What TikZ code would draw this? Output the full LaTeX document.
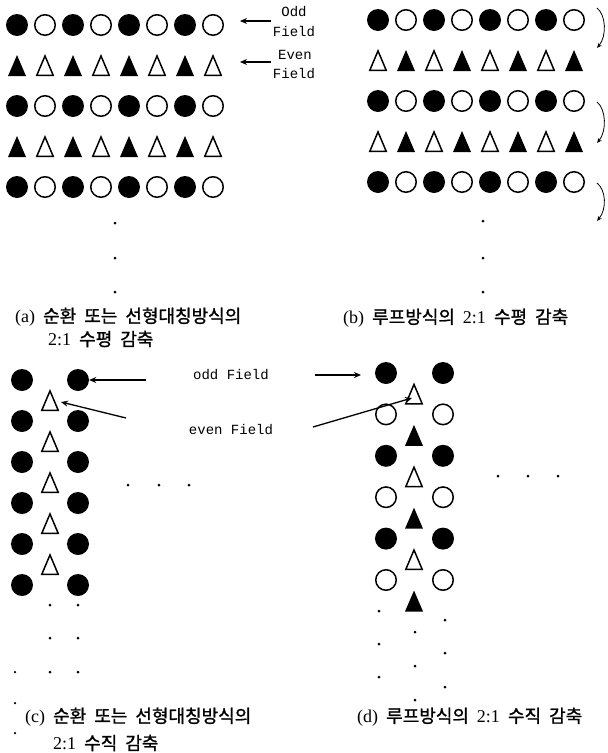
\documentclass[tikz,border=0pt]{standalone}
\usepackage{fontspec}
\usetikzlibrary{arrows.meta}
\newfontfamily\krfont{Noto Sans CJK KR}[FakeBold=1.2]
\newfontfamily\latfont{Liberation Serif}
\newfontfamily\monofont{Liberation Mono}
\newcommand\capfontsetup{\fontsize{18}{21}\selectfont\spaceskip 8pt\relax}
\begin{document}
\begin{tikzpicture}[x=1pt,y=-1pt,
 fc/.style={circle,fill=black,inner sep=0pt,minimum size=22pt},
 oc/.style={circle,draw=black,line width=1.5pt,inner sep=0pt,minimum size=20.5pt},
 dotm/.style={circle,fill=black,inner sep=0pt,minimum size=3pt},
 lbl/.style={font=\monofont\fontsize{14}{16}\selectfont,inner sep=0pt},
 captxt/.style={font=\capfontsetup,inner sep=0pt,anchor=west},
 arr/.style={line width=1.3pt,-{Stealth[length=7pt,width=6pt]}},
 curv/.style={line width=0.8pt,-{Stealth[length=5pt,width=4pt]}},
 ftri/.pic={\fill (-9,10.5) -- (9,10.5) -- (0,-10.5) -- cycle; \coordinate (-c) at (0,0);},
 otri/.pic={\draw[line width=1.5pt,line join=miter] (-8.2,9.8) -- (8.2,9.8) -- (0,-9.6) -- cycle; \coordinate (-c) at (0,0);}
]
\fill[white] (0,0) rectangle (608,753);
\useasboundingbox (0,0) rectangle (608,753);

% ---------- (a) ----------
\foreach \r/\y in {1/25,3/106,5/187}{
  \foreach \i in {0,...,7}{
    \ifodd\i \node[oc] (a-\r-\i) at ({17+28*\i},\y) {};
    \else \node[fc] (a-\r-\i) at ({17+28*\i},\y) {}; \fi
  }
}
\foreach \r/\y in {2/65.5,4/146.5}{
  \foreach \i in {0,...,7}{
    \ifodd\i \pic (a-\r-\i) at ({17+28*\i},\y) {otri};
    \else \pic (a-\r-\i) at ({17+28*\i},\y) {ftri}; \fi
  }
}
\foreach \k/\y in {1/223,2/258,3/292}{\node[dotm] (a-d-\k) at (115,\y) {};}
\coordinate (oddAs) at (271,21); \coordinate (oddAe) at (240,21);
\coordinate (evenAs) at (271,62); \coordinate (evenAe) at (240,62);
\draw[arr,line width=1.1pt] (oddAs) -- (oddAe);
\draw[arr,line width=1.1pt] (evenAs) -- (evenAe);
\node[lbl] (oddA1) at (294,12) {Odd};
\node[lbl] (oddA2) at (294,32) {Field};
\node[lbl] (evenA1) at (295,55) {Even};
\node[lbl] (evenA2) at (294,74) {Field};

% ---------- (b) ----------
\foreach \r/\y in {1/20,3/101,5/182}{
  \foreach \i in {0,...,7}{
    \ifodd\i \node[oc] (b-\r-\i) at ({378+28*\i},\y) {};
    \else \node[fc] (b-\r-\i) at ({378+28*\i},\y) {}; \fi
  }
}
\foreach \r/\y in {2/60.5,4/141.5}{
  \foreach \i in {0,...,7}{
    \ifodd\i \pic (b-\r-\i) at ({378+28*\i},\y) {ftri};
    \else \pic (b-\r-\i) at ({378+28*\i},\y) {otri}; \fi
  }
}
\foreach \k/\y in {1/221,2/258,3/292}{\node[dotm] (b-d-\k) at (483,\y) {};}
\foreach \k/\ys/\ye in {1/8/48,2/102/143,3/183/221}{
  \coordinate (bc\k s) at (597,\ys);
  \coordinate (bc\k e) at (597,\ye);
  \draw[curv] (bc\k s) .. controls (606,{\ys+7}) and (607,{\ye-12}) .. (bc\k e);
}

% ---------- captions (a),(b) ----------
\node[captxt] (capA1) at (15,317) {\latfont (a) \krfont 순환 또는 선형대칭방식의};
\node[captxt] (capA2) at (48,339) {\latfont 2:1 \krfont 수평 감축};
\node[captxt] (capB) at (343,318) {\latfont (b) \krfont 루프방식의 \latfont 2:1 \krfont 수평 감축};

% ---------- (c) ----------
\foreach \k in {0,...,5}{
  \node[fc] (c-l-\k) at (22,{380+41*\k}) {};
  \node[fc] (c-r-\k) at (78,{380+41*\k}) {};
}
\foreach \k in {0,...,4}{\pic (c-t-\k) at (50,{400.5+41*\k}) {otri};}
\foreach \k/\y in {1/605,2/638,3/672}{
  \node[dotm] (c-dm-\k) at (50,\y) {};
  \node[dotm] (c-dr-\k) at (78,\y) {};
}
\foreach \k/\y in {1/672,2/703,3/733}{\node[dotm,minimum size=2.5pt] (c-dl-\k) at (15,\y) {};}
\foreach \k/\x in {1/128,2/159,3/189}{\node[dotm] (c-h-\k) at (\x,485) {};}

% ---------- (d) ----------
\foreach \k in {0,...,5}{
  \ifodd\k
    \node[oc] (d-l-\k) at (386,{373+41.4*\k}) {};
    \node[oc] (d-r-\k) at (443,{373+41.4*\k}) {};
    \pic (d-t-\k) at (414,{394+41.4*\k}) {ftri};
  \else
    \node[fc] (d-l-\k) at (386,{373+41.4*\k}) {};
    \node[fc] (d-r-\k) at (443,{373+41.4*\k}) {};
    \pic (d-t-\k) at (414,{394+41.4*\k}) {otri};
  \fi
}
\foreach \k/\y in {1/611,2/644,3/677}{\node[dotm] (d-dl-\k) at (379,\y) {};}
\foreach \k/\y in {1/632,2/666,3/700}{\node[dotm] (d-dm-\k) at (415,\y) {};}
\foreach \k/\y in {1/620,2/653,3/687}{\node[dotm] (d-dr-\k) at (445,\y) {};}
\foreach \k/\x in {1/498,2/528,3/558}{\node[dotm] (d-h-\k) at (\x,476) {};}

% ---------- labels and arrows (c),(d) ----------
\node[lbl] (oddC) at (231,375) {odd Field};
\node[lbl] (evenC) at (231,430) {even Field};
\coordinate (oddLs) at (146,380);
\coordinate (evenLs) at (126,418);
\coordinate (evenLe) at (61,402);
\coordinate (oddRs) at (315,375);
\coordinate (oddRe) at (361,375);
\coordinate (evenRs) at (313,427);
\coordinate (evenRe) at (412,398);
\draw[arr] (oddLs) -- (c-r-0.east);
\draw[arr] (evenLs) -- (evenLe);
\draw[arr] (oddRs) -- (oddRe);
\draw[arr] (evenRs) -- (evenRe);

% ---------- captions (c),(d) ----------
\node[captxt] (capC1) at (25,717) {\latfont (c) \krfont 순환 또는 선형대칭방식의};
\node[captxt] (capC2) at (53,743) {\latfont 2:1 \krfont 수직 감축};
\node[captxt] (capD) at (357,717) {\latfont (d) \krfont 루프방식의 \latfont 2:1 \krfont 수직 감축};
\end{tikzpicture}
\end{document}
